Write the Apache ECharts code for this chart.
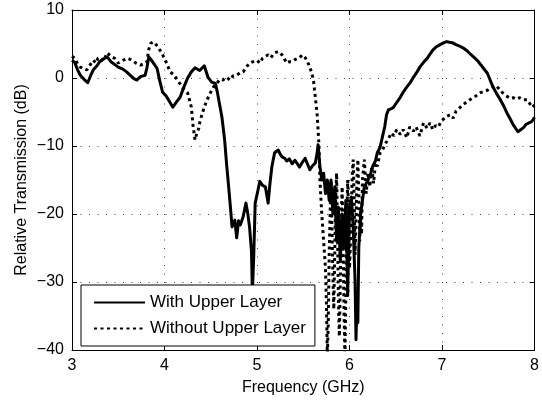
<!DOCTYPE html>
<html><head><meta charset="utf-8">
<script src="https://cdn.jsdelivr.net/npm/echarts@6/dist/echarts.min.js"></script>
<style>html,body{margin:0;padding:0;background:#fff}#c{width:542px;height:403px}</style>
</head><body><div id="c"></div>
<script>
const xTicks = [3, 4, 5, 6, 7, 8];
const yTicks = [-40, -30, -20, -10, 0, 10];
const seriesNames = ['With Upper Layer', 'Without Upper Layer'];
const xTitle = 'Frequency (GHz)';
const yTitle = 'Relative Transmission (dB)';

const freqWith = [3.00,3.03,3.06,3.09,3.13,3.17,3.20,3.23,3.27,3.30,3.34,3.38,3.42,3.46,3.50,3.55,3.59,3.63,3.67,3.70,3.74,3.79,3.81,3.83,3.86,3.89,3.92,3.95,3.98,4.02,4.06,4.09,4.13,4.17,4.21,4.25,4.29,4.33,4.38,4.43,4.47,4.51,4.55,4.57,4.59,4.62,4.65,4.67,4.69,4.71,4.73,4.745,4.76,4.78,4.80,4.82,4.85,4.88,4.90,4.92,4.94,4.95,4.965,4.98,5.01,5.03,5.06,5.09,5.12,5.14,5.16,5.19,5.21,5.23,5.25,5.27,5.30,5.32,5.35,5.38,5.41,5.43,5.46,5.49,5.52,5.55,5.57,5.60,5.63,5.65,5.66,5.68,5.70,5.72,5.74,5.76,5.78,5.80,5.82,5.84,5.86,5.88,5.90,5.92,5.94,5.96,5.98,6.00,6.02,6.04,6.06,6.07,6.08,6.09,6.10,6.12,6.14,6.16,6.18,6.20,6.23,6.25,6.28,6.30,6.33,6.36,6.38,6.40,6.42,6.47,6.51,6.55,6.58,6.62,6.66,6.69,6.73,6.76,6.80,6.84,6.87,6.90,6.94,6.98,7.02,7.05,7.08,7.11,7.15,7.19,7.23,7.27,7.30,7.34,7.38,7.41,7.45,7.49,7.52,7.55,7.59,7.63,7.67,7.70,7.74,7.77,7.80,7.82,7.85,7.88,7.91,7.94,7.97,8.00];
const dbWith = [2.6,2.3,1.2,0.4,-0.2,-0.7,0.3,1.2,1.8,2.4,2.8,3.1,2.4,2.0,1.6,1.3,0.9,0.4,-0.1,-0.3,0.2,0.4,1.5,3.1,2.6,2.0,1.4,-0.5,-2.1,-2.7,-3.6,-4.3,-3.5,-2.8,-1.3,0.0,0.9,1.5,1.1,1.8,0.1,-0.6,-0.8,-2.0,-3.5,-5.7,-9.1,-12.5,-15.5,-18.6,-21.9,-21.5,-20.9,-23.5,-21.0,-21.6,-20.4,-18.4,-19.9,-22.0,-25.5,-31.5,-26.0,-18.4,-16.5,-15.2,-15.8,-16.0,-18.4,-15.5,-13.1,-11.0,-10.8,-10.6,-11.2,-11.6,-11.8,-12.2,-11.9,-12.6,-12.1,-12.0,-13.1,-12.4,-11.8,-12.8,-13.5,-12.9,-12.5,-11.0,-9.8,-13.0,-15.0,-14.0,-17.0,-15.0,-18.0,-15.0,-20.0,-16.0,-24.0,-19.0,-27.0,-20.0,-25.0,-18.0,-32.0,-19.0,-17.5,-22.0,-30.0,-38.5,-33.0,-36.0,-25.0,-20.0,-18.0,-16.0,-15.5,-15.0,-14.0,-13.0,-12.2,-11.0,-10.2,-8.4,-7.2,-5.4,-4.7,-4.4,-3.6,-2.8,-2.1,-1.3,-0.6,0.1,0.9,1.6,2.3,2.9,3.5,4.1,4.6,4.9,5.2,5.35,5.25,5.2,4.9,4.7,4.4,4.0,3.6,3.1,2.6,2.1,1.4,0.7,-0.3,-1.3,-2.3,-3.2,-4.2,-5.1,-6.1,-6.9,-7.5,-7.9,-7.6,-7.3,-6.8,-6.6,-6.4,-5.8];

const freqWithout = [3.00,3.03,3.06,3.09,3.12,3.16,3.20,3.23,3.26,3.28,3.31,3.34,3.38,3.42,3.46,3.50,3.55,3.60,3.65,3.69,3.74,3.78,3.81,3.83,3.85,3.88,3.90,3.93,3.95,3.98,4.01,4.04,4.06,4.10,4.14,4.17,4.20,4.23,4.25,4.27,4.29,4.31,4.33,4.35,4.37,4.38,4.40,4.42,4.46,4.49,4.51,4.54,4.57,4.60,4.63,4.67,4.71,4.74,4.78,4.82,4.85,4.89,4.92,4.96,5.00,5.03,5.06,5.09,5.12,5.15,5.19,5.23,5.27,5.30,5.32,5.35,5.38,5.41,5.43,5.46,5.49,5.52,5.54,5.57,5.59,5.61,5.63,5.65,5.66,5.67,5.68,5.70,5.72,5.74,5.75,5.76,5.77,5.78,5.79,5.80,5.81,5.82,5.83,5.84,5.85,5.86,5.87,5.88,5.89,5.90,5.91,5.92,5.93,5.94,5.95,5.96,5.97,5.98,5.99,6.00,6.01,6.02,6.03,6.04,6.05,6.06,6.07,6.08,6.09,6.10,6.11,6.12,6.13,6.14,6.16,6.18,6.20,6.22,6.24,6.26,6.28,6.30,6.33,6.36,6.39,6.42,6.45,6.48,6.51,6.55,6.58,6.62,6.65,6.69,6.72,6.76,6.80,6.84,6.87,6.90,6.93,6.96,6.99,7.01,7.04,7.06,7.09,7.12,7.15,7.19,7.23,7.27,7.30,7.34,7.38,7.41,7.45,7.49,7.52,7.55,7.58,7.61,7.64,7.66,7.69,7.71,7.74,7.77,7.80,7.84,7.88,7.92,7.95,7.97,8.00];
const dbWithout = [3.2,2.9,2.1,1.6,1.4,1.2,2.0,2.6,2.2,2.9,3.0,2.5,3.7,3.2,2.9,2.2,2.6,2.9,2.6,2.2,1.9,2.1,2.4,4.2,5.1,5.3,5.1,4.6,4.1,3.4,2.6,1.6,0.9,0.5,-0.3,-0.9,-1.5,-1.9,-2.2,-3.2,-4.3,-7.2,-9.1,-8.1,-7.4,-6.6,-5.6,-4.7,-3.2,-2.4,-1.8,-1.1,-0.7,-0.2,-0.3,0.1,-0.3,0.3,0.4,0.8,0.9,1.7,2.2,2.4,2.6,2.2,2.9,3.2,3.4,3.0,3.7,3.9,3.4,2.7,2.2,2.4,2.4,2.7,2.6,3.0,3.4,3.0,2.6,1.6,0.8,-0.3,-2.8,-5.4,-7.6,-10.0,-15.0,-20.0,-24.0,-28.0,-33.0,-41.0,-36.0,-26.0,-20.0,-15.0,-22.0,-29.0,-34.0,-26.0,-18.0,-14.0,-22.0,-33.0,-38.0,-30.0,-21.0,-16.0,-24.0,-34.0,-41.0,-32.0,-22.0,-15.0,-20.0,-28.0,-24.0,-19.0,-14.0,-12.0,-18.0,-26.0,-21.0,-15.0,-12.0,-17.0,-24.0,-19.0,-23.0,-15.0,-12.0,-17.0,-14.0,-16.0,-13.0,-15.5,-12.5,-13.0,-11.0,-10.5,-9.6,-9.0,-8.1,-8.5,-7.6,-8.3,-7.6,-8.8,-7.2,-7.8,-7.2,-8.5,-6.6,-7.4,-6.6,-7.6,-7.0,-7.2,-6.4,-6.6,-5.7,-5.9,-5.4,-5.9,-4.9,-4.4,-3.9,-3.5,-3.2,-2.9,-2.5,-2.2,-2.0,-1.8,-1.5,-1.3,-1.1,-1.5,-2.0,-2.2,-2.6,-2.8,-3.0,-2.9,-3.1,-2.9,-3.2,-3.2,-3.8,-4.3,-4.0];

const FONT = 'Liberation Sans, Arial, Helvetica, sans-serif';
const pairs = (xs, ys) => xs.map((x, i) => [x, ys[i]]);
const minus = v => String(v).replace('-', '\u2212');

const baseX = {
  type: 'value', min: xTicks[0], max: xTicks[xTicks.length - 1], interval: xTicks[1] - xTicks[0],
  axisLine: { show: true, onZero: false, lineStyle: { color: '#000', width: 1 } },
  axisTick: { show: true, inside: true, length: 5, lineStyle: { color: '#000' } }
};
const baseY = {
  type: 'value', min: yTicks[0], max: yTicks[yTicks.length - 1], interval: yTicks[1] - yTicks[0],
  axisLine: { show: true, onZero: false, lineStyle: { color: '#000', width: 1 } },
  axisTick: { show: true, inside: true, length: 5, lineStyle: { color: '#000' } }
};

const chart = echarts.init(document.getElementById('c'), null, { renderer: 'canvas' });
chart.setOption({
  animation: false,
  backgroundColor: '#fff',
  grid: { left: 72, right: 7, top: 10, bottom: 53, containLabel: false },
  xAxis: [
    Object.assign({}, baseX, {
      position: 'bottom',
      name: xTitle, nameLocation: 'middle', nameGap: 30, nameMoveOverlap: false,
      nameTextStyle: { fontSize: 16, color: '#000', fontFamily: FONT },
      axisLabel: { fontSize: 16, color: '#000', fontFamily: FONT, margin: 8, formatter: minus },
      splitLine: { show: true, lineStyle: { color: '#444', width: 1, type: [1, 7.5] } }
    }),
    Object.assign({}, baseX, { position: 'top', axisLabel: { show: false }, splitLine: { show: false } })
  ],
  yAxis: [
    Object.assign({}, baseY, {
      position: 'left',
      name: yTitle, nameLocation: 'middle', nameGap: 42, nameMoveOverlap: false,
      nameTextStyle: { fontSize: 16, color: '#000', fontFamily: FONT },
      axisLabel: { fontSize: 16, color: '#000', fontFamily: FONT, margin: 8, formatter: minus },
      splitLine: { show: true, lineStyle: { color: '#444', width: 1, type: [1, 7.5] } }
    }),
    Object.assign({}, baseY, { position: 'right', axisLabel: { show: false }, splitLine: { show: false } })
  ],
  legend: {
    data: seriesNames, orient: 'vertical', left: 81, top: 285,
    itemWidth: 51, itemHeight: 14, itemGap: 9,
    padding: [9, 9, 9, 12],
    borderColor: '#000', borderWidth: 1, borderRadius: 0, backgroundColor: '#fff',
    itemStyle: { opacity: 0 },
    textStyle: { fontSize: 17, color: '#000', fontFamily: FONT }
  },
  series: [
    {
      name: seriesNames[0], type: 'line', data: pairs(freqWith, dbWith),
      symbol: 'none', showSymbol: false, clip: true, z: 3,
      lineStyle: { color: '#000', width: 3, join: 'round' }, itemStyle: { color: '#000' }
    },
    {
      name: seriesNames[1], type: 'line', data: pairs(freqWithout, dbWithout),
      symbol: 'none', showSymbol: false, clip: true, z: 2,
      lineStyle: { color: '#000', width: 3, type: [3, 3.5], cap: 'butt' }, itemStyle: { color: '#000' }
    }
  ]
});
</script></body></html>
